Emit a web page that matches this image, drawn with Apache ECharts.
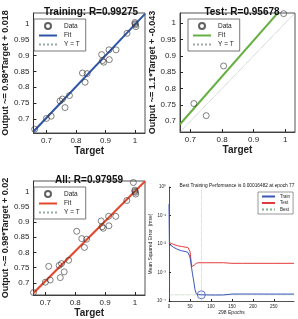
<!DOCTYPE html>
<html>
<head>
<meta charset="utf-8">
<script src="https://cdn.jsdelivr.net/npm/echarts@6/dist/echarts.min.js"></script>
<style>
html,body{margin:0;padding:0;background:#fff;}
#main{width:298px;height:319px;}
</style>
</head>
<body>
<div id="main"></div>
<script>
// regression data
var trainTarget=[0.660,0.700,0.716,0.746,0.754,0.763,0.778,0.822,0.831,0.838,0.887,0.890,0.894,0.913,0.912,0.936,0.973,1.000,1.002,1.003,1.000];
var trainOutput=[0.668,0.702,0.709,0.757,0.763,0.736,0.774,0.845,0.816,0.843,0.903,0.884,0.879,0.887,0.918,0.918,0.970,1.004,0.997,0.991,1.000];
var testTarget=[0.711,0.750,0.805,0.995];
var testOutput=[0.754,0.717,0.869,1.029];
var allTarget=trainTarget.concat(testTarget);
var allOutput=trainOutput.concat(testOutput);
var fitTrain=[0.98,0.018];
var fitTest=[1.1,-0.043];
var fitAll=[0.98,0.02];
var limTrain=[0.656,1.034];
var limTest=[0.667,1.031];
var limAll=[0.660,1.034];
var xTicks=[0.7,0.8,0.9,1];
var yTicks=[0.7,0.75,0.8,0.85,0.9,0.95,1];

// performance data
var perfEpochs=[0,1,5,10,20,30,40,45,48,50,52,54,56,58,60,62,65,70,77,90,110,130,150,175,200,250,298];
var perfTrain=[0.25,0.0098,0.0085,0.0078,0.0065,0.0058,0.0054,0.0051,0.0045,0.0035,0.0022,0.0014,0.0009,0.0006,0.0004,0.00025,0.00018,0.000167,0.000165,0.000163,0.000162,0.000163,0.000175,0.000176,0.000176,0.000175,0.000175];
var perfTest=[0.0115,0.011,0.0105,0.0098,0.0087,0.0082,0.0077,0.0076,0.0078,0.0055,0.0032,0.0016,0.0014,0.0016,0.0018,0.0019,0.0021,0.0022,0.0022,0.0022,0.0022,0.0022,0.0021,0.0021,0.0021,0.0021,0.0021];
var bestEpoch=77;
var bestPerf=0.00016482;
var epochMax=298;
var logTicks=['10\u2070','10\u207B\u00B9','10\u207B\u00B2','10\u207B\u00B3','10\u207B\u2074'];

var font="Liberation Sans";
var myChart=echarts.init(document.getElementById('main'));

function pairs(a,b){
  return a.map(function(v,i){return [v,b[i]];});
}
function fitLine(f,lim){
  return [[lim[0],f[0]*lim[0]+f[1]],[lim[1],f[0]*lim[1]+f[1]]];
}

var grids=[
  {left:27,top:13,width:118,height:120},
  {left:180,top:13,width:115,height:119},
  {left:28,top:181,width:117,height:118},
  {left:169,top:187,width:125,height:114,show:false}
];
grids.forEach(function(g,i){
  if(i<3){g.show=true;g.borderColor='#262626';g.borderWidth=0.8;}
});

function regX(i,lim,name){
  return {gridIndex:i,type:'value',min:lim[0],max:lim[1],name:name,nameLocation:'middle',nameGap:13,
    nameTextStyle:{fontFamily:font,fontSize:10,fontWeight:'bold',color:'#222'},
    axisLine:{lineStyle:{color:'#262626',width:0.8}},
    axisTick:{inside:true,length:3,customValues:xTicks,lineStyle:{color:'#262626'}},
    axisLabel:{customValues:xTicks,fontFamily:font,fontSize:8,color:'#262626',margin:4,
      formatter:function(v){return String(+v.toFixed(2));}},
    splitLine:{show:false}};
}
function regY(i,lim,name){
  return {gridIndex:i,type:'value',min:lim[0],max:lim[1],name:name,nameLocation:'middle',nameGap:21,
    nameTextStyle:{fontFamily:font,fontSize:9,fontWeight:'bold',color:'#222'},
    axisLine:{lineStyle:{color:'#262626',width:0.8}},
    axisTick:{inside:true,length:3,customValues:yTicks,lineStyle:{color:'#262626'}},
    axisLabel:{customValues:yTicks,fontFamily:font,fontSize:8,color:'#262626',margin:4,
      formatter:function(v){return String(+v.toFixed(2));}},
    splitLine:{show:false}};
}

function regSeries(i,p,t,o,f,lim,color){
  return [
    {name:p+'|Y = T',type:'line',xAxisIndex:i,yAxisIndex:i,data:[[lim[0],lim[0]],[lim[1],lim[1]]],
      symbol:'none',lineStyle:{color:'#9aa',width:0.8,type:'dotted'},silent:true,z:1},
    {name:p+'|Fit',type:'line',xAxisIndex:i,yAxisIndex:i,data:fitLine(f,lim),
      symbol:'none',lineStyle:{color:color,width:2},silent:true,z:2},
    {name:p+'|Data',type:'scatter',xAxisIndex:i,yAxisIndex:i,data:pairs(t,o),
      symbol:'circle',symbolSize:6,itemStyle:{color:'rgba(255,255,255,0)',borderColor:'#3a3a3a',borderWidth:0.8},z:3}
  ];
}

var hideSym={opacity:0};
function regLegend(p,left,top){
  return {orient:'vertical',left:left,top:top,
    data:[{name:p+'|Data'},{name:p+'|Fit',itemStyle:hideSym},{name:p+'|Y = T',itemStyle:hideSym}],
    formatter:function(n){return n.split('|')[1];},
    itemWidth:18,itemHeight:6,itemGap:2,padding:[3,6,3,4],
    backgroundColor:'#fff',borderColor:'#555',borderWidth:0.8,borderRadius:0,
    textStyle:{fontFamily:font,fontSize:6.5,color:'#222',padding:[0,0,0,2]}};
}

var titleStyle={fontFamily:font,fontSize:10,fontWeight:'bold',color:'#111'};

var option={
  animation:false,
  backgroundColor:'#fff',
  title:[
    {text:'Training: R=0.99275',left:86,top:2,textAlign:'center',textStyle:titleStyle},
    {text:'Test: R=0.95678',left:237,top:2,textAlign:'center',textStyle:titleStyle},
    {text:'All: R=0.97959',left:84,top:170,textAlign:'center',textStyle:titleStyle},
    {text:'Best Training Performance is 0.00016482 at epoch 77',left:232,top:178,textAlign:'center',
      textStyle:{fontFamily:font,fontSize:4.8,fontWeight:'normal',color:'#111'}}
  ],
  legend:[
    regLegend('tr',34,19),
    regLegend('te',188,19),
    regLegend('al',34,187),
    {orient:'vertical',left:258,top:192,
      data:[{name:'pf|Train',itemStyle:hideSym},{name:'pf|Test',itemStyle:hideSym},{name:'pf|Best',itemStyle:hideSym}],
      formatter:function(n){return n.split('|')[1];},
      itemWidth:13,itemHeight:3,itemGap:1.5,padding:[2,3,2,3],
      backgroundColor:'#fff',borderColor:'#555',borderWidth:0.6,
      textStyle:{fontFamily:font,fontSize:4.5,color:'#222'}}
  ],
  grid:grids,
  xAxis:[
    regX(0,limTrain,'Target'),
    regX(1,limTest,'Target'),
    regX(2,limAll,'Target'),
    {gridIndex:3,type:'value',min:0,max:epochMax,interval:50,name:epochMax+' Epochs',nameLocation:'middle',nameGap:9,
      nameTextStyle:{fontFamily:font,fontSize:5,color:'#222'},
      axisLine:{lineStyle:{color:'#262626',width:0.8}},
      axisTick:{inside:true,length:2,lineStyle:{color:'#262626'}},
      axisLabel:{fontFamily:font,fontSize:4.5,color:'#262626',margin:3,showMaxLabel:false},
      splitLine:{show:false}}
  ],
  yAxis:[
    regY(0,limTrain,'Output ~= 0.98*Target + 0.018'),
    regY(1,limTest,'Output ~= 1.1*Target + -0.043'),
    regY(2,limAll,'Output ~= 0.98*Target + 0.02'),
    {gridIndex:3,type:'log',logBase:10,min:0.0001,max:1,splitNumber:4,name:'Mean Squared Error  (mse)',nameLocation:'middle',nameGap:13,
      nameTextStyle:{fontFamily:font,fontSize:5,color:'#222'},
      axisLine:{show:true,lineStyle:{color:'#262626',width:0.8}},
      axisTick:{show:true,inside:true,length:2,lineStyle:{color:'#262626'}},
      axisLabel:{fontFamily:font,fontSize:4.5,color:'#262626',margin:3,
        formatter:function(v){var e=Math.round(-Math.log10(v));return logTicks[e]||'';}},
      splitLine:{show:false}}
  ],
  series:[].concat(
    regSeries(0,'tr',trainTarget,trainOutput,fitTrain,limTrain,'#2f55a8'),
    regSeries(1,'te',testTarget,testOutput,fitTest,limTest,'#66b042'),
    regSeries(2,'al',allTarget,allOutput,fitAll,limAll,'#e5472c'),
    [
      {name:'pf|Best',type:'line',xAxisIndex:3,yAxisIndex:3,data:[[0,bestPerf],[epochMax,bestPerf]],
        symbol:'none',lineStyle:{color:'#7fb08a',width:0.6,type:'dotted'},silent:true,z:1,
        markLine:{silent:true,symbol:'none',label:{show:false},
          lineStyle:{color:'#9ab',width:0.6,type:'dotted'},data:[{xAxis:bestEpoch}]}},
      {name:'pf|Train',type:'line',xAxisIndex:3,yAxisIndex:3,data:pairs(perfEpochs,perfTrain),
        symbol:'none',lineStyle:{color:'#3a55b8',width:1},z:3},
      {name:'pf|Test',type:'line',xAxisIndex:3,yAxisIndex:3,data:pairs(perfEpochs,perfTest),
        symbol:'none',lineStyle:{color:'#e23b3b',width:1},z:2},
      {name:'best',type:'scatter',xAxisIndex:3,yAxisIndex:3,data:[[bestEpoch,bestPerf]],
        symbol:'circle',symbolSize:8,itemStyle:{color:'rgba(255,255,255,0)',borderColor:'#3a55b8',borderWidth:1},z:4}
    ]
  )
};
myChart.setOption(option);
</script>
</body>
</html>
